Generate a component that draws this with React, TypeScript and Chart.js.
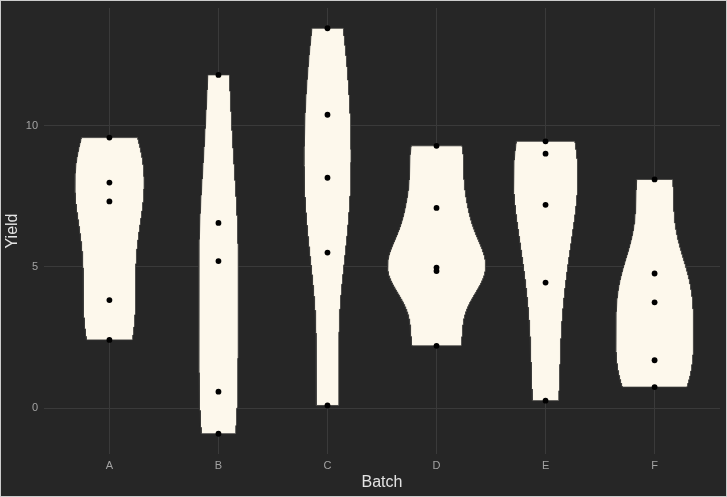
import React, { useEffect, useRef } from "react";
import { Chart, registerables } from "chart.js";

Chart.register(...registerables);

const batches = ["A", "B", "C", "D", "E", "F"];
const yieldA = [9.57, 7.98, 7.31, 3.82, 2.41];
const yieldB = [11.79, 6.55, 5.2, 0.58, -0.91];
const yieldC = [13.44, 10.38, 8.15, 5.5, 0.09];
const yieldD = [9.28, 7.08, 4.97, 4.85, 2.2];
const yieldE = [9.44, 9.0, 7.19, 4.44, 0.26];
const yieldF = [8.09, 4.76, 3.74, 1.69, 0.74];
const yieldByBatch = [yieldA, yieldB, yieldC, yieldD, yieldE, yieldF];
const yTicks = [0, 5, 10];

const FONT = "'Liberation Sans', Arial, Helvetica, sans-serif";
const VIOLIN_FILL = "#fdf8ec";

function quantile7(sorted: number[], p: number) {
  const h = (sorted.length - 1) * p;
  const lo = Math.floor(h);
  const hi = Math.ceil(h);
  return sorted[lo] + (h - lo) * (sorted[hi] - sorted[lo]);
}

function bwNrd0(x: number[]) {
  const n = x.length;
  const mean = x.reduce((a, b) => a + b, 0) / n;
  const sd = Math.sqrt(x.reduce((a, b) => a + (b - mean) * (b - mean), 0) / (n - 1));
  const s = [...x].sort((a, b) => a - b);
  const iqr = quantile7(s, 0.75) - quantile7(s, 0.25);
  let lo = Math.min(sd, iqr / 1.34);
  if (!lo) lo = sd || Math.abs(s[0]) || 1;
  return 0.9 * lo * Math.pow(n, -0.2);
}

function density(x: number[], nGrid = 512) {
  const bw = bwNrd0(x);
  const min = Math.min(...x);
  const max = Math.max(...x);
  const ys: number[] = [];
  const ds: number[] = [];
  for (let k = 0; k < nGrid; k++) {
    const y = min + ((max - min) * k) / (nGrid - 1);
    let d = 0;
    for (const xi of x) {
      const z = (y - xi) / bw;
      d += Math.exp(-0.5 * z * z) / Math.sqrt(2 * Math.PI);
    }
    ys.push(y);
    ds.push(d / (x.length * bw));
  }
  return { ys, ds };
}

export default function App() {
  const ref = useRef<HTMLCanvasElement>(null);

  useEffect(() => {
    document.body.style.margin = "0";
    if (!ref.current) return;

    const dens = yieldByBatch.map((v) => density(v));
    const maxD = Math.max(...dens.map((d) => Math.max(...d.ds)));

    const violinSets = dens.map((d, i) => {
      const pts: { x: number; y: number }[] = [];
      for (let k = 0; k < d.ys.length; k++) {
        pts.push({ x: i + (0.45 * d.ds[k]) / maxD, y: d.ys[k] });
      }
      for (let k = d.ys.length - 1; k >= 0; k--) {
        pts.push({ x: i - (0.45 * d.ds[k]) / maxD, y: d.ys[k] });
      }
      pts.push(pts[0]);
      return {
        label: "violin " + batches[i],
        data: pts,
        showLine: true,
        fill: "shape",
        backgroundColor: VIOLIN_FILL,
        borderColor: "#3a3a38",
        borderWidth: 0.8,
        pointRadius: 0,
        tension: 0,
        order: 2,
      };
    });

    const pointData: { x: number; y: number }[] = [];
    yieldByBatch.forEach((vals, i) => vals.forEach((v) => pointData.push({ x: i, y: v })));

    const bgPlugin = {
      id: "bg",
      beforeDraw(chart: any) {
        const { ctx, width, height } = chart;
        ctx.save();
        ctx.fillStyle = "#262626";
        ctx.fillRect(0, 0, width, height);
        ctx.restore();
      },
      afterDraw(chart: any) {
        const { ctx, width, height } = chart;
        ctx.save();
        ctx.strokeStyle = "#cccccc";
        ctx.lineWidth = 1;
        ctx.strokeRect(0.5, 0.5, width - 1, height - 1);
        ctx.restore();
      },
    };

    const gridColor = "#3a3a3a";
    const tickColor = "#a3a3a3";
    const titleColor = "#e3e3e3";

    const chart = new Chart(ref.current, {
      type: "scatter",
      data: {
        datasets: [
          {
            label: "Yield",
            data: pointData,
            backgroundColor: "#000000",
            borderWidth: 0,
            pointRadius: 2.9,
            order: 0,
          } as any,
          ...(violinSets as any[]),
        ],
      },
      plugins: [bgPlugin],
      options: {
        animation: false,
        responsive: false,
        maintainAspectRatio: false,
        layout: { padding: { top: 8, right: 7, left: 0, bottom: 0 } },
        plugins: {
          legend: { display: false },
          tooltip: { enabled: false },
        },
        scales: {
          x: {
            type: "linear",
            min: -0.6,
            max: 5.6,
            afterBuildTicks: (s: any) => {
              s.ticks = batches.map((_, i) => ({ value: i }));
            },
            afterFit: (s: any) => {
              s.height = 43;
              s.paddingLeft = 0;
              s.paddingRight = 0;
            },
            ticks: {
              callback: (v: any) => batches[Math.round(Number(v))],
              color: tickColor,
              font: { family: FONT, size: 11 },
              padding: 5,
              autoSkip: false,
              maxRotation: 0,
            },
            grid: { color: gridColor, drawTicks: false, lineWidth: 1 },
            border: { display: false },
            title: {
              display: true,
              text: "Batch",
              color: titleColor,
              font: { family: FONT, size: 16 },
              padding: { top: 0, bottom: 5 },
            },
          },
          y: {
            type: "linear",
            min: -1.6275,
            max: 14.1575,
            afterBuildTicks: (s: any) => {
              s.ticks = yTicks.map((v) => ({ value: v }));
            },
            afterFit: (s: any) => {
              s.width = 44;
              s.paddingTop = 0;
              s.paddingBottom = 0;
            },
            ticks: {
              color: tickColor,
              font: { family: FONT, size: 11 },
              padding: 6,
            },
            grid: { color: gridColor, drawTicks: false, lineWidth: 1 },
            border: { display: false },
            title: {
              display: true,
              text: "Yield",
              color: titleColor,
              font: { family: FONT, size: 16 },
              padding: { top: 3, bottom: 0 },
            },
          },
        },
      } as any,
    });

    return () => chart.destroy();
  }, []);

  return (
    <div style={{ width: 727, height: 497 }}>
      <canvas ref={ref} width={727} height={497} style={{ display: "block" }} />
    </div>
  );
}
